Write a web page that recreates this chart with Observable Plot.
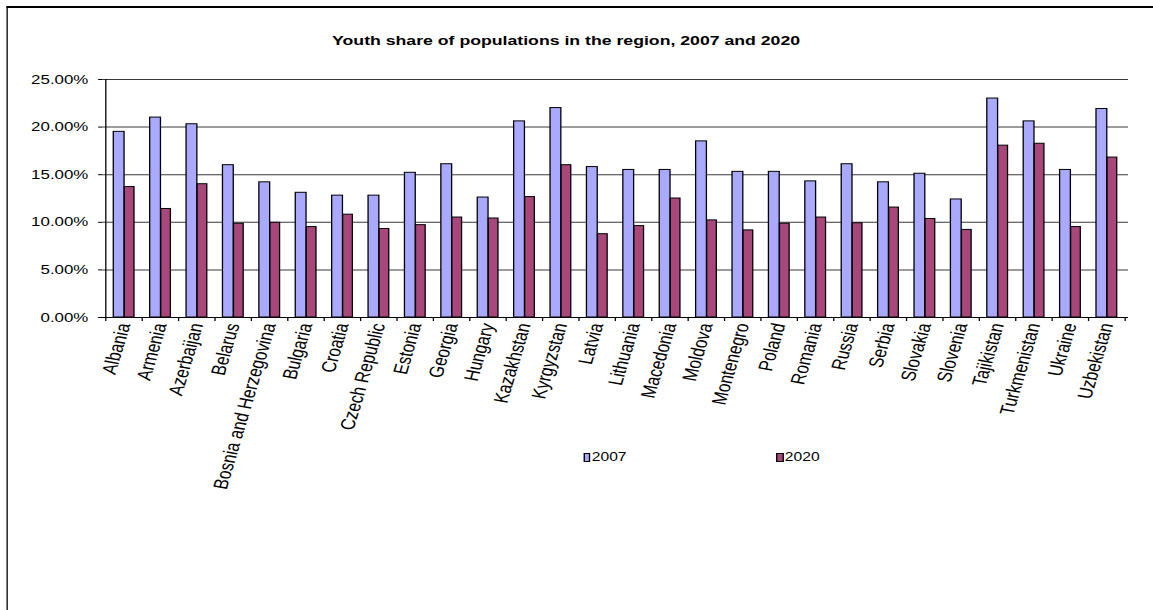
<!DOCTYPE html>
<html><head><meta charset="utf-8">
<script src="https://cdn.jsdelivr.net/npm/d3@7"></script>
<script src="https://cdn.jsdelivr.net/npm/@observablehq/plot@0.6"></script>
<style>
html,body{margin:0;padding:0;background:#fff;overflow:hidden;width:1153px;height:610px;}
#wrap{position:absolute;left:0;top:0;width:887px;height:610px;transform:scaleX(1.29989);transform-origin:0 0;font-family:"Liberation Sans",Arial,sans-serif;color:#000;}
#frame{position:absolute;left:4.6px;top:6px;width:2000px;height:2000px;border-left:1.6px solid #000;border-top:2px solid #000;box-sizing:border-box;}
#title{position:absolute;top:33px;left:0;width:871px;text-align:center;font-weight:bold;font-size:13.6px;line-height:16px;white-space:nowrap;}
#chart{position:absolute;left:0;top:0;}
.leg{position:absolute;top:450px;font-size:12px;line-height:14px;display:flex;align-items:center;white-space:nowrap;}
.sw{display:inline-block;width:3.8px;height:7px;border:1px solid #000;margin-right:1px;}
</style>
</head>
<body>
<div id="wrap">
  <div id="frame"></div>
  <div id="chart"></div>
  <div id="title"></div>
  <div id="legend"></div>
</div>
<script>
const titleText = "Youth share of populations in the region, 2007 and 2020";
const countries = ["Albania","Armenia","Azerbaijan","Belarus","Bosnia and Herzegovina","Bulgaria","Croatia","Czech Republic","Estonia","Georgia","Hungary","Kazakhstan","Kyrgyzstan","Latvia","Lithuania","Macedonia","Moldova","Montenegro","Poland","Romania","Russia","Serbia","Slovakia","Slovenia","Tajikistan","Turkmenistan","Ukraine","Uzbekistan"];
const y2007 = [19.5, 21.0, 20.3, 16.0, 14.2, 13.1, 12.8, 12.8, 15.2, 16.1, 12.6, 20.6, 22.0, 15.8, 15.5, 15.5, 18.5, 15.3, 15.3, 14.3, 16.1, 14.2, 15.1, 12.4, 23.0, 20.6, 15.5, 21.9];
const y2020 = [13.7, 11.4, 14.0, 9.85, 9.95, 9.5, 10.8, 9.3, 9.7, 10.5, 10.4, 12.65, 16.0, 8.75, 9.6, 12.5, 10.2, 9.15, 9.85, 10.5, 9.9, 11.55, 10.35, 9.2, 18.05, 18.25, 9.5, 16.8];
const seriesNames = ["2007", "2020"];
const seriesColors = ["#A9A9FF", "#A8487A"];
const yTicks = [0, 5, 10, 15, 20, 25];

document.getElementById("title").textContent = titleText;

const W = 887, H = 610;
const mL = 78.5, mR = 19.2, mT = 79, mB = 293;
const bw = (W - mL - mR) / countries.length;
const rows = countries.map((c, i) => ({country: c, v2007: y2007[i], v2020: y2020[i]}));

const chart = Plot.plot({
  width: W, height: H,
  marginLeft: mL, marginRight: mR, marginTop: mT, marginBottom: mB,
  style: {fontFamily: '"Liberation Sans", Arial, sans-serif', fontSize: "13px", color: "#000", background: "transparent", overflow: "visible"},
  x: {type: "band", domain: countries, padding: 0, label: null},
  y: {domain: [0, 25], label: null},
  marks: [
    Plot.ruleY(yTicks.filter(d => d > 0), {stroke: "#3a3a3a", strokeWidth: 1}),
    Plot.barY(rows, {x: "country", y: "v2007", fill: seriesColors[0], stroke: "#000", strokeWidth: 1, insetLeft: bw * 0.218, insetRight: bw * 0.481}),
    Plot.barY(rows, {x: "country", y: "v2020", fill: seriesColors[1], stroke: "#000", strokeWidth: 1, insetLeft: bw * 0.519, insetRight: bw * 0.21}),
    Plot.ruleY([0], {stroke: "#000"}),
    Plot.ruleX([countries[0]], {y1: 0, y2: 25, dx: -bw / 2, stroke: "#000"}),
    Plot.ruleX(countries, {y1: 0, y2: 0, insetBottom: -4, dx: -bw / 2, stroke: "#000"}),
    Plot.ruleX([countries[countries.length - 1]], {y1: 0, y2: 0, insetBottom: -4, dx: bw / 2, stroke: "#000"}),
    Plot.axisY({ticks: yTicks, tickSize: 3, tickPadding: 8, tickFormat: d => d.toFixed(2) + "%", fontSize: 13}),
    Plot.axisX({tickSize: 0, tickPadding: 6, tickRotate: -77, fontSize: 15.6})
  ]
});
document.getElementById("chart").appendChild(chart);

const legend = document.getElementById("legend");
const legX = [448.5, 597];
seriesNames.forEach((name, i) => {
  const d = document.createElement("div");
  d.className = "leg";
  d.style.left = legX[i] + "px";
  const sw = document.createElement("span");
  sw.className = "sw";
  sw.style.background = seriesColors[i];
  d.appendChild(sw);
  d.appendChild(document.createTextNode(name));
  legend.appendChild(d);
});
</script>
</body></html>
